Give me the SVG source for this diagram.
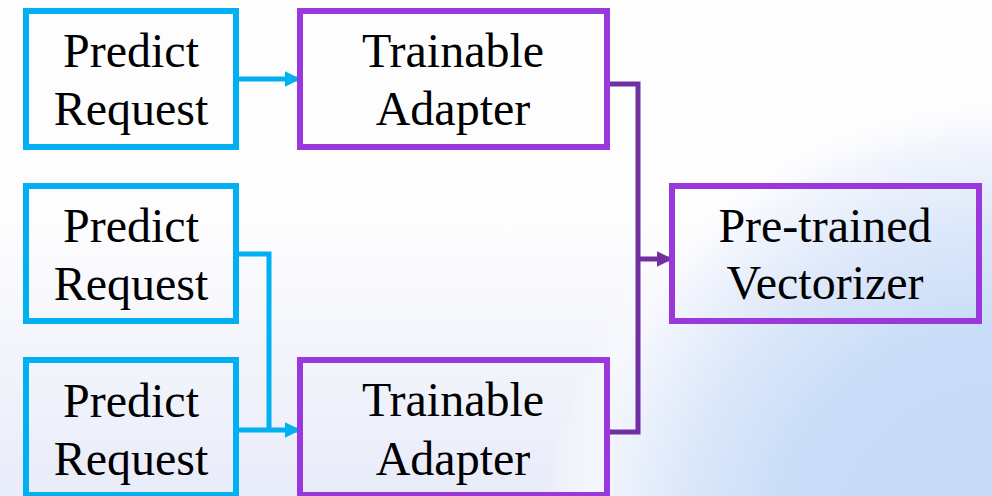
<svg xmlns="http://www.w3.org/2000/svg" width="992" height="496" viewBox="0 0 992 496">
  <defs>
    <!-- soft blue wash rising from the lower right corner -->
    <radialGradient id="wash" gradientUnits="userSpaceOnUse" cx="1010" cy="560" r="470">
      <stop offset="0" stop-color="#c4d9f8"/>
      <stop offset="0.5" stop-color="#c9ddf8"/>
      <stop offset="0.72" stop-color="#dde8fa"/>
      <stop offset="0.9" stop-color="#f3f6fd"/>
      <stop offset="1" stop-color="#ffffff" stop-opacity="0"/>
    </radialGradient>
    <!-- faint lavender haze along the bottom -->
    <linearGradient id="lav" x1="0" y1="0" x2="0" y2="1">
      <stop offset="0.45" stop-color="#e6e9f8" stop-opacity="0"/>
      <stop offset="1" stop-color="#e4e8f8" stop-opacity="0.85"/>
    </linearGradient>
    <marker id="arrCyan" viewBox="0 0 10 10" refX="9" refY="5" markerWidth="3.2" markerHeight="3.6" markerUnits="strokeWidth" orient="auto">
      <path d="M0,0 L10,5 L0,10 Z" fill="#00b0f0"/>
    </marker>
    <marker id="arrPurple" viewBox="0 0 10 10" refX="9" refY="5" markerWidth="3.2" markerHeight="3.6" markerUnits="strokeWidth" orient="auto">
      <path d="M0,0 L10,5 L0,10 Z" fill="#7030a0"/>
    </marker>
  </defs>
  <style>
    .req { fill: none; stroke: #00b0f0; stroke-width: 6; }
    .pur { fill: none; stroke: #9a38dc; stroke-width: 6; }
    .lbl { font-family: "Liberation Serif", "Times New Roman", serif; font-size: 48px; fill: #000; text-anchor: middle; }
    .c-cyan { fill: none; stroke: #00b0f0; stroke-width: 5; }
    .c-pur { fill: none; stroke: #7030a0; stroke-width: 5; }
  </style>

  <!-- background -->
  <rect width="992" height="496" fill="#fdfdfe"/>
  <rect width="992" height="496" fill="url(#lav)"/>
  <rect width="992" height="496" fill="url(#wash)"/>

  <!-- connectors -->
  <g id="connectors">
    <path class="c-cyan" d="M239,79 H299" marker-end="url(#arrCyan)"/>
    <path class="c-cyan" d="M239,254 H269 V430"/>
    <path class="c-cyan" d="M239,430 H299" marker-end="url(#arrCyan)"/>
    <path class="c-pur" d="M610,84 H638 V432 H610"/>
    <path class="c-pur" d="M638,259 H671" marker-end="url(#arrPurple)"/>
  </g>

  <g id="request1">
    <rect class="req" x="26" y="11" width="210" height="136"/>
    <text class="lbl" x="131" y="67">Predict</text>
    <text class="lbl" x="131" y="125">Request</text>
  </g>

  <g id="adapter1">
    <rect class="pur" x="300" y="11" width="307" height="136"/>
    <text class="lbl" x="453" y="67">Trainable</text>
    <text class="lbl" x="453" y="125">Adapter</text>
  </g>

  <g id="request2">
    <rect class="req" x="26" y="186" width="210" height="135"/>
    <text class="lbl" x="131" y="242">Predict</text>
    <text class="lbl" x="131" y="300">Request</text>
  </g>

  <g id="request3">
    <rect class="req" x="26" y="360" width="210" height="135"/>
    <text class="lbl" x="131" y="417">Predict</text>
    <text class="lbl" x="131" y="475">Request</text>
  </g>

  <g id="adapter2">
    <rect class="pur" x="300" y="360" width="307" height="135"/>
    <text class="lbl" x="453" y="416">Trainable</text>
    <text class="lbl" x="453" y="475">Adapter</text>
  </g>

  <g id="vectorizer">
    <rect class="pur" x="672" y="186" width="307" height="135"/>
    <text class="lbl" x="825" y="242">Pre-trained</text>
    <text class="lbl" x="825" y="299">Vectorizer</text>
  </g>
</svg>
